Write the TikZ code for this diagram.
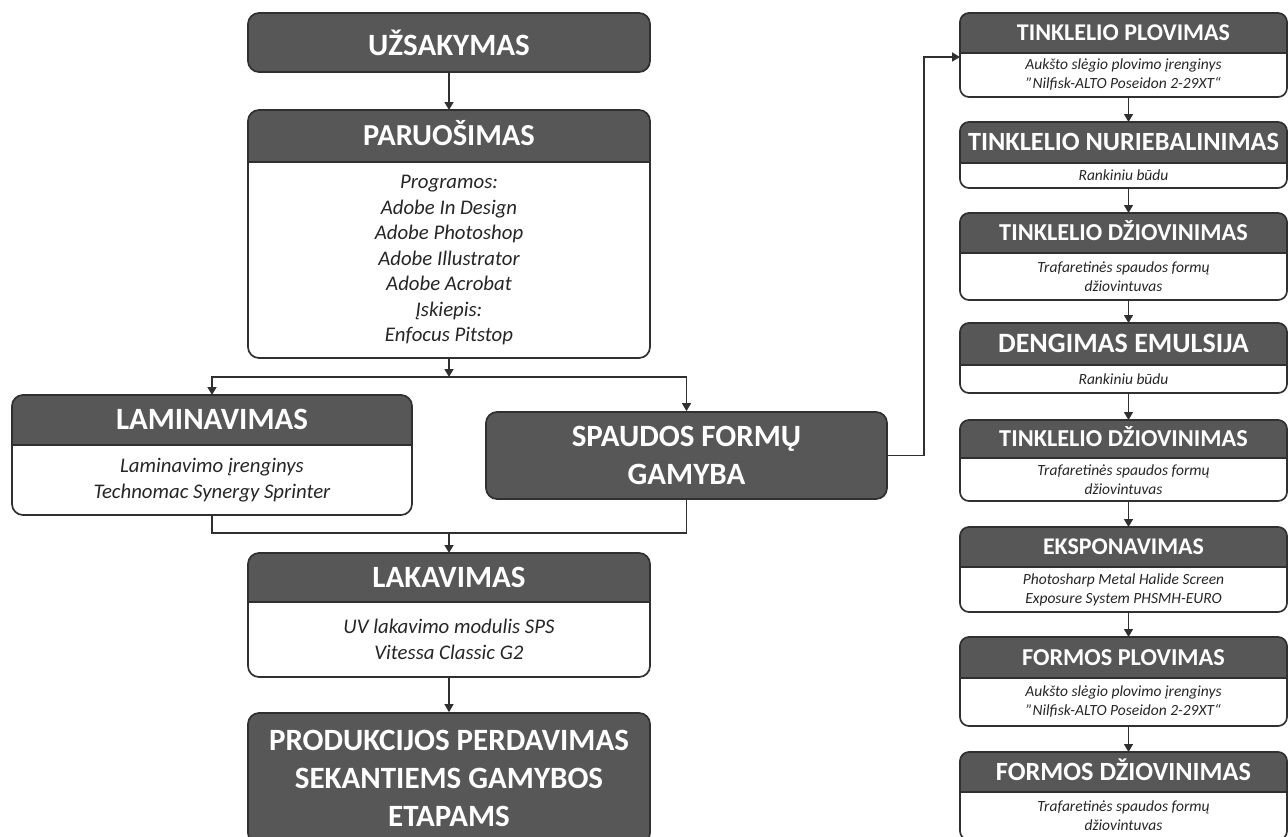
\documentclass[tikz,border=0pt]{standalone}
\usepackage{fontspec}
\setmainfont{Carlito}
\usetikzlibrary{arrows.meta}
\definecolor{hdr}{HTML}{575757}
\definecolor{edge}{HTML}{303030}
\definecolor{ink}{HTML}{262626}
\newcommand{\qd}{\symbol{34}}
\tikzset{
  boxline/.style={draw=edge, line width=1.7pt},
  conn/.style={draw=edge, line width=1.4pt},
  arr/.style={conn, -{Triangle[length=8pt,width=9pt]}},
  hdrtext/.style={text=white, align=center, inner sep=0pt, anchor=base},
  bodytext/.style={text=ink, align=center, inner sep=0pt},
  bL/.style={font={\itshape\fontsize{20.8}{25.5}\selectfont}},
  bR/.style={font={\itshape\fontsize{15.5}{19}\selectfont}},
  rL/.style={rounded corners=11pt},
  rR/.style={rounded corners=9pt},
  darkbox/.style={fill=hdr, boxline, rounded corners=11pt, text=white, align=center, inner sep=0pt,
    font={\bfseries\fontsize{31}{38}\selectfont}},
}
\pgfkeys{
  /fb/L/.code={\tikzset{fbbody/.style={bL}, fbrad/.style={rL}}},
  /fb/R/.code={\tikzset{fbbody/.style={bR}, fbrad/.style={rR}}},
  /fb/ts/.code={\def\fbts{#1}},
}
% name, x1, y1, x2, y2, y-header, options (L/R, ts=title size), title, body
\newcommand{\flowbox}[9]{%
  \pgfkeys{/fb/.cd,#7}%
  \node[minimum width={(#4-#2)*1pt}, minimum height={(#5-#3)*1pt}, inner sep=0pt, outer sep=0pt]
    (#1) at ({(#2+#4)/2},{(#3+#5)/2}) {};
  \begin{scope}
    \clip[fbrad] (#1.north west) rectangle (#1.south east);
    \fill[hdr] (#1.north west) rectangle (#4,#6);
    \fill[white] (#2,#6) rectangle (#1.south east);
  \end{scope}
  \draw[boxline] (#2,#6) -- (#4,#6);
  \draw[boxline, fbrad] (#1.north west) rectangle (#1.south east);
  \node[hdrtext, font={\bfseries\fontsize{\fbts}{\fbts}\selectfont}] (#1-t)
    at ({(#2+#4)/2},{(#3+#6)/2+0.32*\fbts}) {#8};
  \node[bodytext, fbbody] (#1-b) at ({(#2+#4)/2},{(#6+#5)/2}) {#9};
}
\begin{document}
\begin{tikzpicture}[x=1pt, y=-1pt]
\useasboundingbox (0,0) rectangle (1288,836);
\clip (0,0) rectangle (1288,836);
\fill[white] (0,0) rectangle (1288,836);

% left column
\node[darkbox, minimum width=402pt, minimum height=59pt] (uz) at (449,42.5) {};
\node[hdrtext, font={\bfseries\fontsize{31}{38}\selectfont}] (uz-t) at (449,{46+0.32*31}) {UŽSAKYMAS};
\flowbox{pa}{248}{110}{650}{358}{162}{L,ts=30.5}{PARUOŠIMAS}{Programos:\\Adobe In Design\\Adobe Photoshop\\Adobe Illustrator\\Adobe Acrobat\\Įskiepis:\\Enfocus Pitstop}
\flowbox{lam}{12}{395}{412}{515}{445}{L,ts=31}{LAMINAVIMAS}{Laminavimo įrenginys\\Technomac Synergy Sprinter}
\node[darkbox, minimum width=401pt, minimum height=87pt] (sp) at (686.5,455.5) {SPAUDOS FORMŲ\\GAMYBA};
\flowbox{lak}{248}{553}{650}{677}{602}{L,ts=31}{LAKAVIMAS}{UV lakavimo modulis SPS\\Vitessa Classic G2}
\node[darkbox, minimum width=402pt, minimum height=131pt] (pr) at (449,778.5) {PRODUKCIJOS PERDAVIMAS\\SEKANTIEMS GAMYBOS\\ETAPAMS};

% right column
\flowbox{tp}{960}{13}{1287}{97}{53}{R,ts=24}{TINKLELIO PLOVIMAS}{Aukšto slėgio plovimo įrenginys\\\qd Nilfisk-ALTO Poseidon 2-29XT“}
\flowbox{tn}{960}{122}{1287}{188}{163}{R,ts=26.3}{TINKLELIO NURIEBALINIMAS}{Rankiniu būdu}
\flowbox{td}{960}{213}{1287}{300}{253}{R,ts=24.3}{TINKLELIO DŽIOVINIMAS}{Trafaretinės spaudos formų\\džiovintuvas}
\flowbox{de}{960}{323}{1287}{393}{365}{R,ts=28}{DENGIMAS EMULSIJA}{Rankiniu būdu}
\flowbox{tdd}{960}{420}{1287}{501}{458}{R,ts=24.3}{TINKLELIO DŽIOVINIMAS}{Trafaretinės spaudos formų\\džiovintuvas}
\flowbox{ek}{960}{527}{1287}{612}{567}{R,ts=23.9}{EKSPONAVIMAS}{Photosharp Metal Halide Screen\\Exposure System PHSMH-EURO}
\flowbox{fp}{960}{637}{1287}{726}{678}{R,ts=24.3}{FORMOS PLOVIMAS}{Aukšto slėgio plovimo įrenginys\\\qd Nilfisk-ALTO Poseidon 2-29XT“}
\flowbox{fd}{960}{752}{1287}{840}{792}{R,ts=26.3}{FORMOS DŽIOVINIMAS}{Trafaretinės spaudos formų\\džiovintuvas}

% connectors, left
\coordinate (j1) at (449,377);
\coordinate (j2) at (449,533);
\draw[arr] (uz.south) -- (pa.north);
\draw[arr] (pa.south) -- (j1);
\draw[arr] (j1) -| (lam.north);
\draw[arr] (j1) -| (sp.north);
\draw[conn] (lam.south) |- (j2);
\draw[conn] (sp.south) |- (j2);
\draw[arr] (j2) -- (lak.north);
\draw[arr] (lak.south) -- (pr.north);
\draw[arr] (sp.east) -- ++(36,0) |- ([yshift=-2pt]tp.west);

% connectors, right
\draw[arr] ([xshift=5pt]tp.south) -- ([xshift=5pt]tn.north);
\draw[arr] ([xshift=5pt]tn.south) -- ([xshift=5pt]td.north);
\draw[arr] ([xshift=5pt]td.south) -- ([xshift=5pt]de.north);
\draw[arr] ([xshift=5pt]de.south) -- ([xshift=5pt]tdd.north);
\draw[arr] ([xshift=5pt]tdd.south) -- ([xshift=5pt]ek.north);
\draw[arr] ([xshift=5pt]ek.south) -- ([xshift=5pt]fp.north);
\draw[arr] ([xshift=5pt]fp.south) -- ([xshift=5pt]fd.north);
\end{tikzpicture}
\end{document}
